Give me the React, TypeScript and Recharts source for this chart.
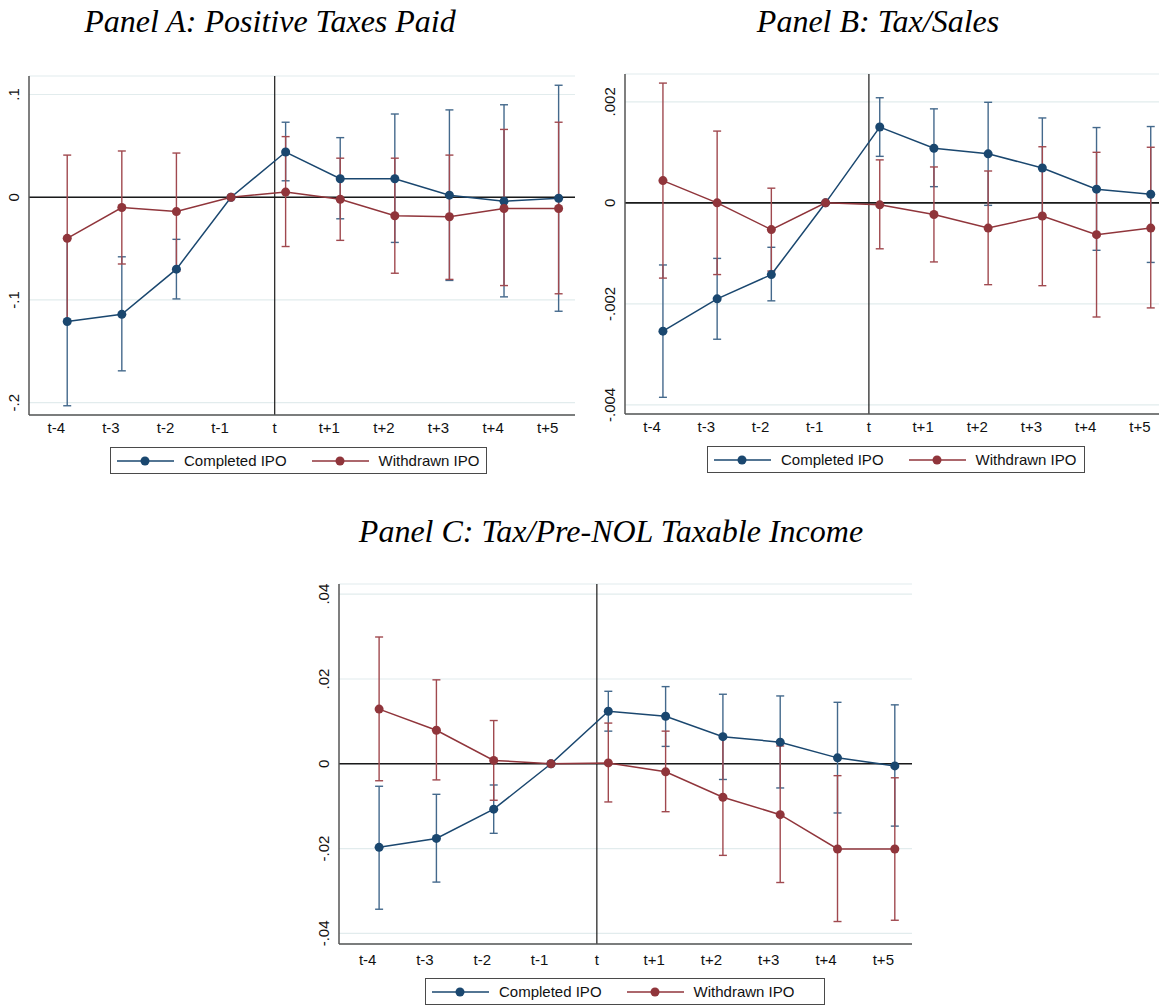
import React from 'react'
import {
  LineChart,
  Line,
  XAxis,
  YAxis,
  CartesianGrid,
  ReferenceLine,
  ErrorBar,
  Legend,
} from 'recharts'

// event time labels, the points sit a little to the right of each tick
const periods = ['t-4', 't-3', 't-2', 't-1', 't', 't+1', 't+2', 't+3', 't+4', 't+5']
const periodIndex = [-4, -3, -2, -1, 0, 1, 2, 3, 4, 5]
const pointOffset = 0.2

// Panel A: Positive Taxes Paid
const aCompleted = [-0.121, -0.114, -0.070, 0, 0.044, 0.018, 0.018, 0.002, -0.004, -0.001]
const aCompletedLo = [-0.203, -0.169, -0.099, 0, 0.016, -0.021, -0.044, -0.081, -0.097, -0.111]
const aCompletedHi = [-0.039, -0.058, -0.041, 0, 0.073, 0.058, 0.081, 0.085, 0.090, 0.109]
const aWithdrawn = [-0.040, -0.010, -0.014, 0, 0.005, -0.002, -0.018, -0.019, -0.011, -0.011]
const aWithdrawnLo = [-0.120, -0.065, -0.072, 0, -0.048, -0.042, -0.074, -0.080, -0.086, -0.094]
const aWithdrawnHi = [0.041, 0.045, 0.043, 0, 0.059, 0.038, 0.038, 0.041, 0.066, 0.073]
const aTicks = [-0.2, -0.1, 0, 0.1]

// Panel B: Tax/Sales
const bCompleted = [-0.00254, -0.0019, -0.00142, 0, 0.0015, 0.00108, 0.00097, 0.00069, 0.00027, 0.00017]
const bCompletedLo = [-0.00385, -0.0027, -0.00194, 0, 0.00092, 0.00032, -0.00005, -0.0003, -0.00094, -0.00118]
const bCompletedHi = [-0.00123, -0.0011, -0.00088, 0, 0.00208, 0.00186, 0.00199, 0.00168, 0.00149, 0.00151]
const bWithdrawn = [0.00044, 0, -0.00053, 0, -0.00004, -0.00023, -0.0005, -0.00026, -0.00063, -0.0005]
const bWithdrawnLo = [-0.00149, -0.00142, -0.00135, 0, -0.00091, -0.00117, -0.00162, -0.00164, -0.00226, -0.00208]
const bWithdrawnHi = [0.00237, 0.00142, 0.00029, 0, 0.00085, 0.00071, 0.00063, 0.00111, 0.001, 0.0011]
const bTicks = [-0.004, -0.002, 0, 0.002]

// Panel C: Tax/Pre-NOL Taxable Income
const cCompleted = [-0.0197, -0.0176, -0.0107, 0, 0.0124, 0.0112, 0.0064, 0.0051, 0.0014, -0.0005]
const cCompletedLo = [-0.0343, -0.0279, -0.0164, 0, 0.0077, 0.0041, -0.0037, -0.0057, -0.0116, -0.0147]
const cCompletedHi = [-0.0053, -0.0072, -0.005, 0, 0.0171, 0.0182, 0.0164, 0.016, 0.0145, 0.0139]
const cWithdrawn = [0.0129, 0.0079, 0.0008, 0, 0.0002, -0.0019, -0.0079, -0.012, -0.0201, -0.0201]
const cWithdrawnLo = [-0.004, -0.0038, -0.0086, 0, -0.009, -0.0113, -0.0216, -0.028, -0.0372, -0.0369]
const cWithdrawnHi = [0.0299, 0.0198, 0.0102, 0, 0.0096, 0.0077, 0.0064, 0.0042, -0.0028, -0.0033]
const cTicks = [-0.04, -0.02, 0, 0.02, 0.04]

const seriesNames = ['Completed IPO', 'Withdrawn IPO']

const NAVY = '#1a476f'
const MAROON = '#90353b'
const NAVY_CI = '#44698c'
const MAROON_CI = '#a0494f'
const SANS = '"Liberation Sans", Arial, sans-serif'
const SERIF = '"Liberation Serif", "Times New Roman", serif'

const buildRows = (
  c: number[], cLo: number[], cHi: number[],
  w: number[], wLo: number[], wHi: number[],
) =>
  periodIndex.map((p, i) => ({
    x: p + pointOffset,
    completed: c[i],
    completedErr: [c[i] - cLo[i], cHi[i] - c[i]],
    withdrawn: w[i],
    withdrawnErr: [w[i] - wLo[i], wHi[i] - w[i]],
  }))

// stata style labels: .1, -.002 etc
const stataFmt = (v: number) => {
  if (v === 0) return '0'
  return String(v).replace('0.', '.')
}

const RotTick = (props: any) => {
  const { x, y, payload } = props
  const cx = x - 7
  return (
    <text
      x={cx}
      y={y}
      transform={`rotate(-90 ${cx} ${y})`}
      textAnchor="middle"
      dominantBaseline="central"
      fontSize={15}
      fontFamily={SANS}
      fill="#111"
    >
      {stataFmt(payload.value)}
    </text>
  )
}

const LegendBox = ({ width }: { width: number }) => (
  <div
    style={{
      width,
      height: 27,
      boxSizing: 'border-box',
      border: '1.5px solid #4a4a4a',
      background: '#fff',
      display: 'flex',
      alignItems: 'center',
      paddingLeft: 6,
      fontFamily: SANS,
      fontSize: 15,
      color: '#111',
      whiteSpace: 'nowrap',
    }}
  >
    {[NAVY, MAROON].map((col, i) => (
      <React.Fragment key={seriesNames[i]}>
        <svg width={57} height={12} style={{ marginLeft: i === 0 ? 0 : 25 }}>
          <line x1={0} y1={6} x2={57} y2={6} stroke={col} strokeWidth={1.5} />
          <circle cx={28} cy={6} r={4.5} fill={col} />
        </svg>
        <span style={{ marginLeft: 10 }}>{seriesNames[i]}</span>
      </React.Fragment>
    ))}
  </div>
)

interface PanelProps {
  left: number
  top: number
  width: number
  height: number
  margin: { top: number; right: number; bottom: number; left: number }
  yWidth: number
  yDomain: [number, number]
  yTicks: number[]
  rows: any[]
  legendLeft: number
  legendTop: number
  legendWidth: number
  xTickMargin: number
}

function Panel(p: PanelProps) {
  return (
    <div style={{ position: 'absolute', left: p.left, top: p.top }}>
      <LineChart width={p.width} height={p.height} data={p.rows} margin={p.margin}>
        <CartesianGrid horizontal vertical={false} stroke="#e2eced" strokeWidth={1.2} />
        <XAxis
          type="number"
          dataKey="x"
          domain={[-4.5, 5.5]}
          ticks={periodIndex}
          allowDataOverflow
          tickFormatter={(v: number) => periods[periodIndex.indexOf(v)]}
          tickLine={false}
          tickMargin={p.xTickMargin}
          axisLine={{ stroke: '#555', strokeWidth: 1.5 }}
          tick={{ fontSize: 15, fontFamily: SANS, fill: '#111' }}
          height={25}
        />
        <YAxis
          type="number"
          domain={p.yDomain}
          ticks={p.yTicks}
          allowDataOverflow
          width={p.yWidth}
          tickLine={false}
          axisLine={{ stroke: '#555', strokeWidth: 1.5 }}
          tick={(tp: any) => <RotTick {...tp} />}
        />
        <ReferenceLine y={0} stroke="#1a1a1a" strokeWidth={1.6} />
        <ReferenceLine x={0} stroke="#1a1a1a" strokeWidth={1.2} />
        <Line
          dataKey="completed"
          stroke="none"
          dot={false}
          activeDot={false}
          legendType="none"
          isAnimationActive={false}
        >
          <ErrorBar dataKey="completedErr" width={4} stroke={NAVY_CI} strokeWidth={1.4} direction="y" />
        </Line>
        <Line
          dataKey="withdrawn"
          stroke="none"
          dot={false}
          activeDot={false}
          legendType="none"
          isAnimationActive={false}
        >
          <ErrorBar dataKey="withdrawnErr" width={4} stroke={MAROON_CI} strokeWidth={1.4} direction="y" />
        </Line>
        <Line
          type="linear"
          dataKey="completed"
          name={seriesNames[0]}
          stroke={NAVY}
          strokeWidth={1.5}
          dot={{ r: 4.5, fill: NAVY, stroke: NAVY, strokeWidth: 0 }}
          activeDot={false}
          isAnimationActive={false}
        />
        <Line
          type="linear"
          dataKey="withdrawn"
          name={seriesNames[1]}
          stroke={MAROON}
          strokeWidth={1.5}
          dot={{ r: 4.5, fill: MAROON, stroke: MAROON, strokeWidth: 0 }}
          activeDot={false}
          isAnimationActive={false}
        />
        <Legend
          layout="vertical"
          align="center"
          verticalAlign="middle"
          wrapperStyle={{ position: 'absolute', left: p.legendLeft, top: p.legendTop, width: p.legendWidth, height: 27 }}
          content={() => <LegendBox width={p.legendWidth} />}
        />
      </LineChart>
    </div>
  )
}

const Title = ({ text, cx, top }: { text: string; cx: number; top: number }) => (
  <div
    style={{
      position: 'absolute',
      left: cx - 300,
      top,
      width: 600,
      textAlign: 'center',
      fontFamily: SERIF,
      fontStyle: 'italic',
      fontSize: 32,
      lineHeight: '32px',
      color: '#000',
      whiteSpace: 'nowrap',
    }}
  >
    {text}
  </div>
)

export default function App() {
  const rowsA = buildRows(aCompleted, aCompletedLo, aCompletedHi, aWithdrawn, aWithdrawnLo, aWithdrawnHi)
  const rowsB = buildRows(bCompleted, bCompletedLo, bCompletedHi, bWithdrawn, bWithdrawnLo, bWithdrawnHi)
  const rowsC = buildRows(cCompleted, cCompletedLo, cCompletedHi, cWithdrawn, cWithdrawnLo, cWithdrawnHi)

  return (
    <div
      style={{
        position: 'absolute',
        left: 0,
        top: 0,
        width: 1159,
        height: 1007,
        overflow: 'hidden',
        background: '#fff',
      }}
    >
      <Title text="Panel A: Positive Taxes Paid" cx={270} top={5} />
      <Title text="Panel B: Tax/Sales" cx={878} top={5} />
      <Title text="Panel C: Tax/Pre-NOL Taxable Income" cx={611} top={515} />

      <Panel
        left={0}
        top={60}
        width={580}
        height={420}
        margin={{ top: 16, right: 5, bottom: 40, left: 0 }}
        yWidth={29}
        yDomain={[-0.212, 0.118]}
        yTicks={aTicks}
        rows={rowsA}
        legendLeft={110}
        legendTop={387}
        legendWidth={377}
        xTickMargin={1}
      />
      <Panel
        left={580}
        top={60}
        width={600}
        height={420}
        margin={{ top: 14, right: 13, bottom: 41, left: 0 }}
        yWidth={45}
        yDomain={[-0.00418, 0.00255]}
        yTicks={bTicks}
        rows={rowsB}
        legendLeft={127}
        legendTop={386}
        legendWidth={378}
        xTickMargin={1}
      />
      <Panel
        left={290}
        top={570}
        width={630}
        height={437}
        margin={{ top: 14, right: 8, bottom: 38, left: 0 }}
        yWidth={49}
        yDomain={[-0.0425, 0.0424]}
        yTicks={cTicks}
        rows={rowsC}
        legendLeft={135}
        legendTop={408}
        legendWidth={400}
        xTickMargin={4}
      />
    </div>
  )
}
